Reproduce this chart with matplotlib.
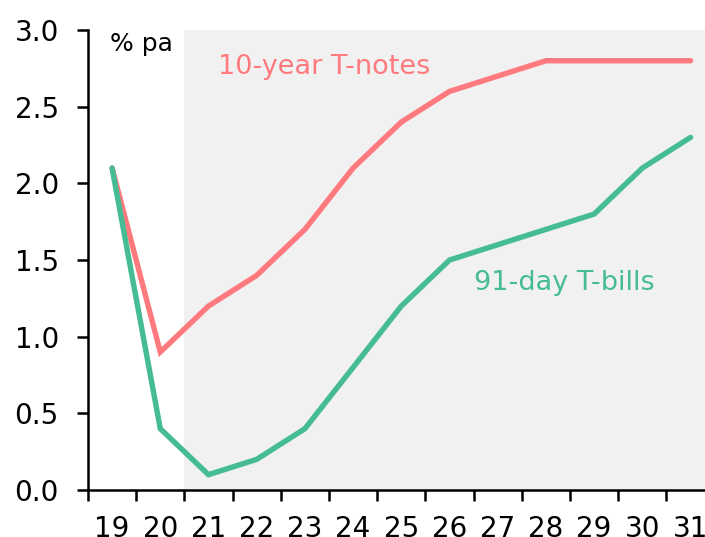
import matplotlib
matplotlib.use("Agg")
import matplotlib.pyplot as plt
import numpy as np

years = ["19", "20", "21", "22", "23", "24", "25", "26", "27", "28", "29", "30", "31"]
tnotes = [2.1, 0.9, 1.2, 1.4, 1.7, 2.1, 2.4, 2.6, 2.7, 2.8, 2.8, 2.8, 2.8]
tbills = [2.1, 0.4, 0.1, 0.2, 0.4, 0.8, 1.2, 1.5, 1.6, 1.7, 1.8, 2.1, 2.3]

red = "#FF7A7E"
green = "#45BC93"

plt.rcParams['font.family'] = ['DejaVu Sans']

fig = plt.figure(figsize=(7.05, 5.37), dpi=100)
ax = fig.add_axes([0.1248, 0.0875, 0.8752, 0.8565])

x = np.arange(len(years))

# forecast shading
ax.axvspan(1.5, 12.3, color="#F1F1F1", zorder=0, lw=0)

ax.plot(x, tnotes, color=red, lw=3.9, solid_capstyle="round", solid_joinstyle="miter", zorder=3)
ax.plot(x, tbills, color=green, lw=3.9, solid_capstyle="round", solid_joinstyle="miter", zorder=3)

ax.set_xlim(-0.5, 12.3)
ax.set_ylim(0, 3.0)

ax.set_yticks(np.arange(0, 3.01, 0.5))
ax.set_yticklabels([f"{v:.1f}" for v in np.arange(0, 3.01, 0.5)])

ax.set_xticks(x)
ax.set_xticklabels(years)
ax.set_xticks(np.arange(-0.5, 12.5, 1), minor=True)
ax.tick_params(axis="x", which="major", length=0, pad=18, labelsize=20)
ax.tick_params(axis="x", which="minor", length=8, width=1.8, direction="out")
ax.tick_params(axis="y", length=8, width=1.8, labelsize=20, pad=13)

for s in ["top", "right"]:
    ax.spines[s].set_visible(False)
for s in ["left", "bottom"]:
    ax.spines[s].set_linewidth(1.8)

ax.text(-0.05, 2.91, "% pa", fontsize=18, color="black", va="center", ha="left")
ax.text(2.2, 2.76, "10-year T-notes", fontsize=19.5, color=red, va="center", ha="left")
ax.text(7.5, 1.35, "91-day T-bills", fontsize=19.5, color=green, va="center", ha="left")

fig.savefig("out.png", dpi=100)
